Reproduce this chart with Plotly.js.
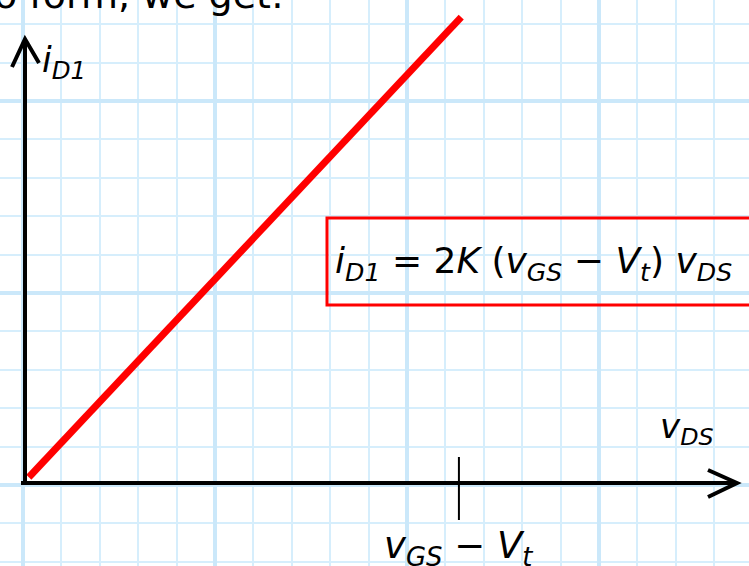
<!DOCTYPE html>
<html>
<head>
<meta charset="utf-8">
<script src="https://cdn.plot.ly/plotly-3.0.1.min.js"></script>
<style>
  html, body { margin: 0; padding: 0; background: #ffffff; }
  #chart { width: 749px; height: 566px; }
</style>
</head>
<body>
<div id="chart"></div>
<script>
// Triode-region line: drain current rises linearly with v_DS
const vDS = [0.1, 11.36];
const iD1 = [0.15, 12.13];
// Point on the v_DS axis where the linear region ends
const overdrive = 11.3;

const W = 749, H = 566;
// one grid square in pixels, and where the axes cross
const cell = 38.4, ox = 25, oy = 483;

// page-pixel helpers for placing the decorations
const dx = p => (p - ox) / cell;
const dy = p => (oy - p) / cell;
const px = p => p / W;
const py = p => 1 - p / H;

const ink = '#000000';
const red = '#ff0000';
const face = 'DejaVu Sans, Verdana, sans-serif';

const trace = {
  x: vDS,
  y: iD1,
  type: 'scatter',
  mode: 'lines',
  line: { color: red, width: 7 },
  hoverinfo: 'skip'
};

const gridAxis = (lo, hi) => ({
  range: [lo, hi],
  tick0: -2 / cell,
  dtick: 5,
  showgrid: true,
  gridcolor: '#cbe8fa',
  gridwidth: 4,
  minor: { tick0: -2 / cell, dtick: 1, showgrid: true, gridcolor: '#d6eefc', gridwidth: 2 },
  showticklabels: false,
  ticks: '',
  zeroline: false,
  showline: false,
  fixedrange: true
});

const seg = (pts, width) => ({
  type: 'path',
  xref: 'x', yref: 'y',
  path: 'M ' + pts.map(p => dx(p[0]) + ',' + dy(p[1])).join(' L '),
  line: { color: ink, width: width }
});

const shapes = [
  // vertical i_D1 axis with open arrowhead
  { type: 'line', xref: 'x', yref: 'y', x0: 0, x1: 0, y0: dy(485), y1: dy(40), line: { color: ink, width: 4 } },
  seg([[12, 67], [25, 39], [39, 63]], 4),
  // horizontal v_DS axis with open arrowhead
  { type: 'line', xref: 'x', yref: 'y', x0: dx(21), x1: dx(736), y0: 0, y1: 0, line: { color: ink, width: 4 } },
  seg([[708, 470], [737, 483], [708, 497]], 4),
  // tick at v_GS - V_t
  { type: 'line', xref: 'x', yref: 'y', x0: overdrive, x1: overdrive, y0: dy(457), y1: dy(520), line: { color: ink, width: 2 } },
  // frame around the equation
  { type: 'rect', xref: 'paper', yref: 'paper', x0: px(327), x1: px(765), y0: py(305), y1: py(218),
    line: { color: red, width: 3 }, fillcolor: 'rgba(0,0,0,0)' }
];

const note = (text, x, y, size, xanchor, yanchor) => ({
  xref: 'paper', yref: 'paper',
  x: px(x), y: py(y),
  text: text,
  showarrow: false,
  xanchor: xanchor || 'left',
  yanchor: yanchor || 'middle',
  font: { family: face, size: size, color: ink }
});

const annotations = [
  note('o form, we get:', -8, 19, 38, 'left', 'bottom'),
  note('<i>i</i><sub><i>D1</i></sub>', 40, 62, 35),
  note('<i>v</i><sub><i>DS</i></sub>', 658, 428, 34),
  note('<i>v</i><sub><i>GS</i></sub> \u2212 <i>V</i><sub><i>t</i></sub>', 458, 548, 37, 'center'),
  note('<i>i</i><sub><i>D1</i></sub> = 2<i>K</i> (<i>v</i><sub><i>GS</i></sub> \u2212 <i>V</i><sub><i>t</i></sub>) <i>v</i><sub><i>DS</i></sub>',
       533, 263, 36, 'center')
];

const layout = {
  width: W,
  height: H,
  margin: { l: 0, r: 0, t: 0, b: 0, pad: 0 },
  paper_bgcolor: '#ffffff',
  plot_bgcolor: '#ffffff',
  showlegend: false,
  xaxis: gridAxis(-ox / cell, (W - ox) / cell),
  yaxis: gridAxis(-(H - oy) / cell, oy / cell),
  shapes: shapes,
  annotations: annotations
};

Plotly.newPlot('chart', [trace], layout, { displayModeBar: false, staticPlot: true });
</script>
</body>
</html>
